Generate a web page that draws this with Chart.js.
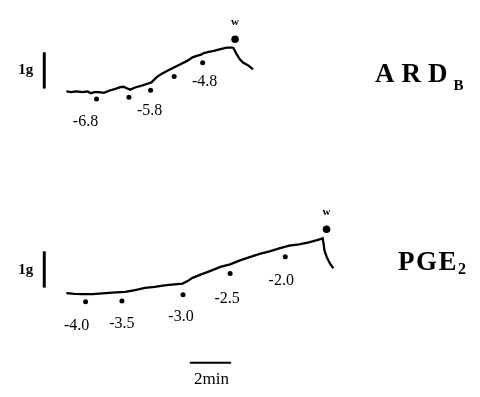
<!DOCTYPE html>
<html>
<head>
<meta charset="utf-8">
<script src="https://cdn.jsdelivr.net/npm/chart.js@4/dist/chart.umd.min.js"></script>
<style>
  html, body { margin: 0; padding: 0; background: #fff; }
  #wrap { width: 480px; height: 397px; }
</style>
</head>
<body>
<div id="wrap"><canvas id="traceChart" width="480" height="397"></canvas></div>
<script>
// tension traces, time in min, force in g above each trace's baseline
const ardTime = [0.02, 0.25, 0.49, 0.81, 1.05, 1.21, 1.37, 1.60, 1.84, 2.08, 2.40, 2.63, 2.79, 2.95, 3.11, 3.35, 3.67, 3.98, 4.14, 4.38, 4.62, 4.94, 5.25, 5.57, 5.89, 6.13, 6.37, 6.52, 6.68, 6.92, 7.16, 7.48, 7.79, 8.03, 8.11, 8.27, 8.43, 8.59, 8.83, 9.06];
const ardForce = [0.02, 0, 0.02, 0, 0.02, -0.03, 0, 0, -0.02, 0.04, 0.09, 0.14, 0.15, 0.11, 0.07, 0.13, 0.18, 0.24, 0.27, 0.41, 0.50, 0.60, 0.69, 0.78, 0.87, 0.96, 1.01, 1.03, 1.08, 1.11, 1.14, 1.19, 1.23, 1.23, 1.22, 1.04, 0.90, 0.81, 0.74, 0.63];

const pgeTime = [0.02, 0.41, 0.81, 1.29, 1.76, 2.24, 2.87, 3.35, 3.83, 4.30, 4.78, 5.25, 5.65, 5.89, 6.13, 6.52, 7.00, 7.48, 7.95, 8.43, 8.90, 9.38, 9.86, 10.33, 10.81, 11.29, 11.76, 12.16, 12.32, 12.43, 12.48, 12.52, 12.63, 12.79, 12.95];
const pgeForce = [0, -0.02, -0.03, -0.03, -0.01, 0.01, 0.03, 0.08, 0.14, 0.17, 0.21, 0.24, 0.26, 0.33, 0.42, 0.51, 0.61, 0.72, 0.79, 0.90, 0.99, 1.08, 1.15, 1.23, 1.31, 1.34, 1.40, 1.46, 1.49, 1.51, 1.35, 1.17, 0.99, 0.81, 0.68];

// drug additions (dots) and log concentration labels
const ardDoseTime = [1.48, 3.05, 4.10, 5.24, 6.62];
const ardDoseForce = [-0.19, -0.14, 0.05, 0.43, 0.81];
const ardDoseLabels = ['-6.8', '', '-5.8', '', '-4.8'];

const pgeDoseTime = [0.95, 2.71, 5.67, 7.95, 10.62];
const pgeDoseForce = [-0.24, -0.22, -0.05, 0.54, 1.0];
const pgeDoseLabels = ['-4.0', '-3.5', '-3.0', '-2.5', '-2.0'];

// washout marks
const ardWashTime = [8.19];
const ardWashForce = [1.46];
const pgeWashTime = [12.62];
const pgeWashForce = [1.76];

// layout: px per unit and where the two baselines sit
const PX_PER_MIN = 21, PX_PER_G = 37;
const ORIGIN_X = 63, ARD_BASE_Y = 90, PGE_BASE_Y = 295;
const PGE_OFFSET = -(PGE_BASE_Y - ARD_BASE_Y) / PX_PER_G;
const ardLabelShift = [[-11, 23], [0, 0], [-1, 20], [0, 0], [2, 19]];
const pgeLabelShift = [[-9, 24], [0, 23], [-2, 22], [-3, 25], [-4, 24]];

function pts(t, f, off) {
    return t.map((x, i) => ({ x: x, y: f[i] + (off || 0) }));
}

const lineStyle = { showLine: true, borderColor: '#000', borderWidth: 2.3, pointRadius: 0, tension: 0, fill: false };
const dotStyle = { showLine: false, pointRadius: 2.5, pointBackgroundColor: '#000', pointBorderWidth: 0 };
const washStyle = { showLine: false, pointRadius: 3.8, pointBackgroundColor: '#000', pointBorderWidth: 0 };
const barStyle = { showLine: true, borderColor: '#000', borderWidth: 3, pointRadius: 0, fill: false };

const textPlugin = {
    id: 'traceText',
    afterDraw(chart) {
        const c = chart.ctx;
        const xs = chart.scales.x, ys = chart.scales.y;
        const px = v => xs.getPixelForValue(v);
        const py = v => ys.getPixelForValue(v);
        c.save();
        c.fillStyle = '#000';
        c.textAlign = 'center';
        c.textBaseline = 'middle';

        c.font = '16px "Liberation Serif"';
        ardDoseLabels.forEach((l, i) => {
            if (!l) return;
            c.fillText(l, px(ardDoseTime[i]) + ardLabelShift[i][0], py(ardDoseForce[i]) + ardLabelShift[i][1]);
        });
        pgeDoseLabels.forEach((l, i) => {
            c.fillText(l, px(pgeDoseTime[i]) + pgeLabelShift[i][0], py(pgeDoseForce[i] + PGE_OFFSET) + pgeLabelShift[i][1]);
        });

        // washout "w"
        c.font = 'bold 11px "Liberation Serif"';
        c.fillText('w', px(ardWashTime[0]), py(ardWashForce[0]) - 17);
        c.fillText('w', px(pgeWashTime[0]), py(pgeWashForce[0] + PGE_OFFSET) - 17);

        // 1g labels
        c.font = 'bold 15px "Liberation Serif"';
        c.fillText('1g', px(-1.95), py(0.6));
        c.fillText('1g', px(-1.95), py(0.62 + PGE_OFFSET));

        // 2min
        c.font = '17px "Liberation Serif"';
        c.fillText('2min', px(7.05), py(-2.38 + PGE_OFFSET));

        // titles
        c.textAlign = 'left';
        c.textBaseline = 'alphabetic';
        c.font = 'bold 27px "Liberation Serif"';
        let x = 375;
        ['A', 'R', 'D'].forEach(ch => { c.fillText(ch, x, 82); x += c.measureText(ch).width + 7; });
        c.font = 'bold 15px "Liberation Serif"';
        c.fillText('B', x - 1, 90);

        c.font = 'bold 27px "Liberation Serif"';
        x = 398;
        ['P', 'G', 'E'].forEach(ch => { c.fillText(ch, x, 270); x += c.measureText(ch).width + 1.5; });
        c.font = 'bold 16px "Liberation Serif"';
        c.fillText('2', x, 274);
        c.restore();
    }
};

new Chart(document.getElementById('traceChart'), {
    type: 'scatter',
    data: {
        datasets: [
            Object.assign({ data: pts(ardTime, ardForce) }, lineStyle),
            Object.assign({ data: pts(pgeTime, pgeForce, PGE_OFFSET) }, lineStyle),
            Object.assign({ data: pts(ardDoseTime, ardDoseForce) }, dotStyle),
            Object.assign({ data: pts(pgeDoseTime, pgeDoseForce, PGE_OFFSET) }, dotStyle),
            Object.assign({ data: pts(ardWashTime, ardWashForce) }, washStyle),
            Object.assign({ data: pts(pgeWashTime, pgeWashForce, PGE_OFFSET) }, washStyle),
            // scale bars: 1 g and 2 min
            Object.assign({ data: [{ x: -1.05, y: 0.1 }, { x: -1.05, y: 1.1 }] }, barStyle),
            Object.assign({ data: [{ x: -1.05, y: 0.15 + PGE_OFFSET }, { x: -1.05, y: 1.15 + PGE_OFFSET }] }, barStyle),
            Object.assign({ data: [{ x: 6.0, y: -1.92 + PGE_OFFSET }, { x: 8.0, y: -1.92 + PGE_OFFSET }] }, barStyle, { borderWidth: 2 })
        ]
    },
    options: {
        responsive: false,
        animation: false,
        layout: { padding: 0 },
        plugins: { legend: { display: false }, tooltip: { enabled: false } },
        scales: {
            x: { type: 'linear', display: false, min: -ORIGIN_X / PX_PER_MIN, max: (480 - ORIGIN_X) / PX_PER_MIN },
            y: { type: 'linear', display: false, min: -(397 - ARD_BASE_Y) / PX_PER_G, max: ARD_BASE_Y / PX_PER_G }
        }
    },
    plugins: [textPlugin]
});
</script>
</body>
</html>
